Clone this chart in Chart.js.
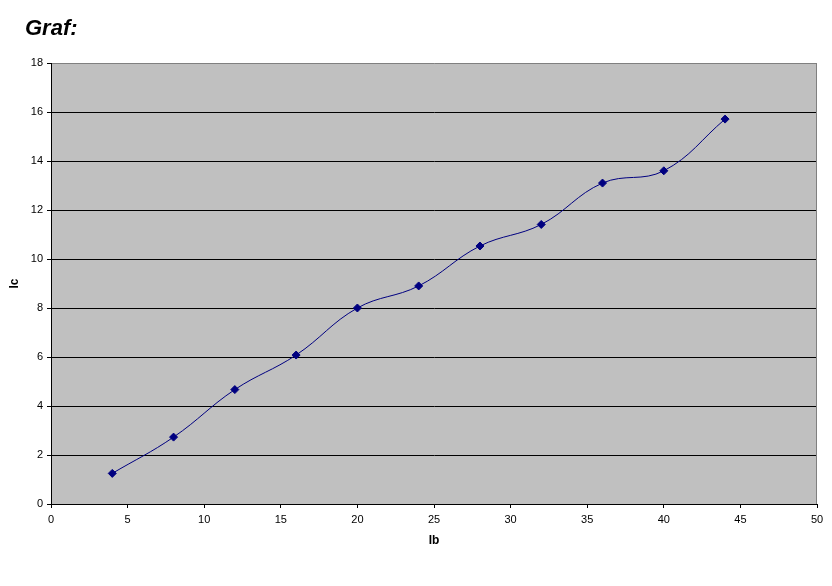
<!DOCTYPE html>
<html>
<head>
<meta charset="utf-8">
<script src="https://cdn.jsdelivr.net/npm/chart.js@4.4.1/dist/chart.umd.min.js"></script>
<style>
  html, body { margin: 0; padding: 0; background: #fff; }
  #wrap { position: relative; width: 832px; height: 586px; }
  #title {
    position: absolute; left: 25px; top: 17px;
    font: italic bold 22px "Liberation Sans", Arial, sans-serif;
    line-height: 22px; color: #000;
  }
  canvas { position: absolute; left: 0; top: 0; }
</style>
</head>
<body>
<div id="wrap">
  <canvas id="graf" width="832" height="586"></canvas>
  <div id="title">Graf:</div>
</div>
<script>
// measured values (Ib on x, Ic on y)
const ibValues = [4, 8, 12, 16, 20, 24, 28, 32, 36, 40, 44];
const icValues = [1.25, 2.73, 4.67, 6.08, 8.0, 8.9, 10.53, 11.41, 13.1, 13.6, 15.71];
const xTicks = { min: 0, max: 50, step: 5 };
const yTicks = { min: 0, max: 18, step: 2 };

const points = ibValues.map((x, i) => ({ x: x, y: icValues[i] }));

// grey plot area with grey top/right edge
const plotArea = {
  id: 'plotArea',
  beforeDraw(chart) {
    const { ctx, chartArea: a } = chart;
    ctx.save();
    ctx.fillStyle = '#c0c0c0';
    ctx.fillRect(a.left, a.top, a.right - a.left, a.bottom - a.top);
    ctx.restore();
  },
  beforeDatasetsDraw(chart) {
    const { ctx, chartArea: a } = chart;
    ctx.save();
    ctx.strokeStyle = '#808080';
    ctx.lineWidth = 1;
    ctx.beginPath();
    ctx.moveTo(Math.round(a.right) - 0.5, a.top);
    ctx.lineTo(Math.round(a.right) - 0.5, a.bottom);
    ctx.stroke();
    ctx.restore();
  }
};

const tickFont = { family: '"Liberation Sans", Arial, sans-serif', size: 11 };
const axisFont = { family: '"Liberation Sans", Arial, sans-serif', size: 12, weight: 'bold' };

new Chart(document.getElementById('graf'), {
  type: 'scatter',
  data: {
    datasets: [{
      data: points,
      showLine: true,
      borderColor: '#000080',
      borderWidth: 1,
      tension: 0.4,
      pointStyle: 'rectRot',
      pointRadius: 4,
      pointBackgroundColor: '#000080',
      pointBorderColor: '#000080',
      pointBorderWidth: 1
    }]
  },
  plugins: [plotArea],
  options: {
    responsive: false,
    animation: false,
    layout: { padding: { left: 0, top: 63, right: 15, bottom: 0 } },
    plugins: {
      legend: { display: false },
      tooltip: { enabled: false },
      title: { display: false }
    },
    scales: {
      x: {
        type: 'linear',
        min: xTicks.min,
        max: xTicks.max,
        ticks: { stepSize: xTicks.step, color: '#000', font: tickFont, padding: 5, maxRotation: 0 },
        grid: { drawOnChartArea: false, drawTicks: true, tickLength: 4, color: '#000' },
        border: { display: true, color: '#000', width: 1 },
        title: { display: true, text: 'Ib', color: '#000', font: axisFont, padding: { top: 0, bottom: 38 } },
        afterFit(scale) { scale.height = 82; }
      },
      y: {
        type: 'linear',
        min: yTicks.min,
        max: yTicks.max,
        ticks: { stepSize: yTicks.step, color: '#000', font: tickFont, padding: 4 },
        grid: {
          drawOnChartArea: true,
          drawTicks: true,
          tickLength: 4,
          color: c => (c.tick && c.tick.value === yTicks.max) ? '#808080' : '#000',
          tickColor: '#000'
        },
        border: { display: true, color: '#000', width: 1 },
        title: { display: true, text: 'Ic', color: '#000', font: axisFont, padding: { top: 7, bottom: 0 } },
        afterFit(scale) { scale.width = 51; }
      }
    }
  }
});
</script>
</body>
</html>
